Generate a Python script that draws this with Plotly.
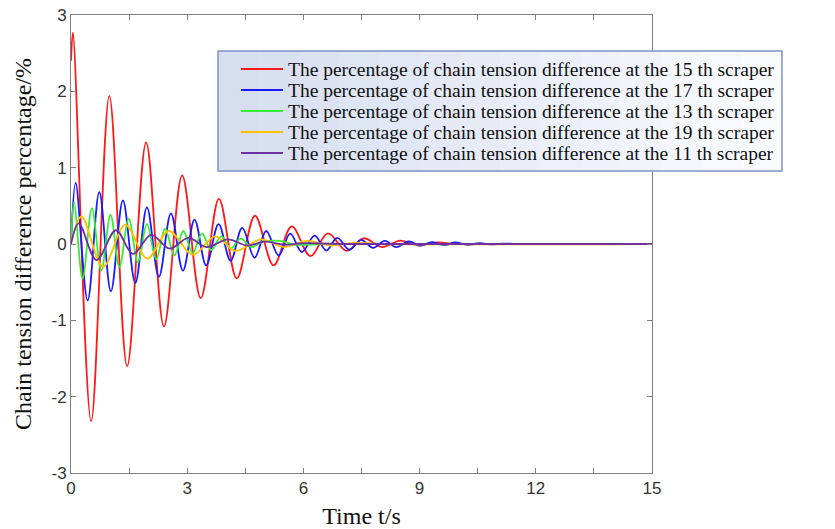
import plotly.graph_objects as go

# ---- data (extrema) ----
t15 = [0, 0.05, 0.52, 0.99, 1.45, 1.94, 2.40, 2.87, 3.35, 3.82, 4.28, 4.75, 5.23, 5.70, 6.18,
       6.63, 7.12, 7.55, 8.03, 8.50, 8.97, 9.45, 9.90, 10.5, 15]
v15 = [2.40, 2.77, -2.32, 1.94, -1.60, 1.33, -1.08, 0.90, -0.71, 0.59, -0.45, 0.37, -0.28, 0.23, -0.16,
       0.14, -0.09, 0.075, -0.04, 0.045, -0.02, 0.02, 0.0, 0.0, 0.0]

t17 = [0, 0.12, 0.43, 0.73, 1.03, 1.34, 1.66, 1.96, 2.27, 2.58, 2.89, 3.19, 3.49, 3.81, 4.12, 4.42,
       4.74, 5.04, 5.36, 5.66, 5.96, 6.29, 6.59, 6.87, 7.19, 7.49, 7.80, 8.10, 8.40, 8.72, 9.02, 9.32,
       9.64, 9.92, 10.23, 10.55, 10.85, 11.17, 11.5, 15]
v17 = [0, 0.80, -0.74, 0.68, -0.62, 0.57, -0.51, 0.48, -0.43, 0.40, -0.35, 0.32, -0.28, 0.26, -0.22, 0.21,
       -0.18, 0.17, -0.15, 0.135, -0.105, 0.11, -0.085, 0.08, -0.075, 0.055, -0.05, 0.04, -0.04, 0.035, -0.02, 0.025,
       -0.015, 0.02, -0.01, 0.01, -0.005, 0.005, 0.0, 0.0]

t13 = [0, 0.08, 0.30, 0.54, 0.78, 1.02, 1.25, 1.49, 1.73, 1.96, 2.20, 2.43, 2.67, 2.90, 3.14, 3.38,
       3.62, 3.88, 4.12, 4.38, 4.65, 4.95, 5.40, 5.80, 6.50, 15]
v13 = [0, 0.55, -0.45, 0.47, -0.35, 0.38, -0.30, 0.33, -0.24, 0.26, -0.20, 0.20, -0.15, 0.17, -0.12, 0.14,
       -0.08, 0.10, -0.06, 0.07, -0.04, 0.03, 0.04, -0.01, 0.0, 0.0]

t19 = [0, 0.27, 0.83, 1.40, 1.97, 2.52, 3.15, 3.72, 4.25, 4.90, 5.50, 6.10, 6.70, 7.30, 8.0, 15]
v19 = [0, 0.36, -0.30, 0.25, -0.19, 0.17, -0.14, 0.10, -0.09, 0.06, -0.04, 0.04, -0.02, 0.015, 0.0, 0.0]

t11 = [0, 0.20, 0.66, 1.16, 1.60, 2.07, 2.55, 3.03, 3.50, 4.05, 4.55, 5.00, 5.50, 6.00, 7.0, 15]
v11 = [0, 0.27, -0.21, 0.18, -0.13, 0.12, -0.06, 0.08, -0.04, 0.06, -0.02, 0.03, -0.01, 0.01, 0.0, 0.0]

names = [
    "The percentage of chain tension difference at the 15 th scraper",
    "The percentage of chain tension difference at the 17 th scraper",
    "The percentage of chain tension difference at the 13 th scraper",
    "The percentage of chain tension difference at the 19 th scraper",
    "The percentage of chain tension difference at the 11 th scraper",
]
colors = ["#ff1a1a", "#1a1aff", "#33ee33", "#ffc000", "#7030a0"]
series = [(t15, v15), (t17, v17), (t13, v13), (t19, v19), (t11, v11)]

x_ticks = [0, 3, 6, 9, 12, 15]
y_ticks = [-3, -2, -1, 0, 1, 2, 3]

# ---- layout geometry (pixels) ----
W, H = 835, 529
ML, MR, MT, MB = 71, 183, 15, 56
PW, PH = W - ML - MR, H - MT - MB


def px(xp):
    return (xp - ML) / PW


def py(yp):
    return (H - MB - yp) / PH


fig = go.Figure()
for (tx, vy), nm, c in zip(series, names, colors):
    fig.add_trace(go.Scatter(x=tx, y=vy, name=nm, mode="lines", showlegend=False,
                             line=dict(color=c, width=1.8, shape="spline", smoothing=1.0)))

# ---- legend box drawn as shapes/annotations ----
box_l, box_r, box_t, box_b = 218, 782, 51, 171
shapes = []
annotations = []
n_strips = 14
c0 = (214, 222, 240)
c1 = (250, 251, 254)
sw = (box_r - box_l) / n_strips
for i in range(n_strips):
    f = i / (n_strips - 1)
    col = "rgb(%d,%d,%d)" % tuple(round(a + (b - a) * f) for a, b in zip(c0, c1))
    shapes.append(dict(type="rect", xref="paper", yref="paper", layer="above",
                       x0=px(box_l + i * sw), x1=px(box_l + (i + 1) * sw + 0.6),
                       y0=py(box_b), y1=py(box_t), fillcolor=col, line=dict(width=0)))
shapes.append(dict(type="rect", xref="paper", yref="paper", layer="above",
                   x0=px(box_l), x1=px(box_r), y0=py(box_b), y1=py(box_t),
                   fillcolor="rgba(0,0,0,0)", line=dict(color="#7f93c8", width=1.5)))
for k, (nm, c) in enumerate(zip(names, colors)):
    yy = 69 + 21 * k
    shapes.append(dict(type="line", xref="paper", yref="paper", layer="above",
                       x0=px(241), x1=px(283), y0=py(yy), y1=py(yy),
                       line=dict(color=c, width=1.8)))
    annotations.append(dict(text=nm, xref="paper", yref="paper", x=px(286), y=py(yy),
                            xanchor="left", yanchor="middle", showarrow=False,
                            font=dict(family="Liberation Serif", size=19.5, color="#111111")))

axis_common = dict(showline=True, linecolor="#7f7f7f", linewidth=1, mirror="ticks",
                   ticks="inside", ticklen=5, tickcolor="#7f7f7f", showgrid=False, zeroline=False,
                   automargin=False)

fig.update_layout(
    width=W, height=H,
    margin=dict(l=ML, r=MR, t=MT, b=MB),
    plot_bgcolor="white", paper_bgcolor="white",
    showlegend=False,
    shapes=shapes, annotations=annotations,
    xaxis=dict(range=[0, 15], tickvals=x_ticks, ticktext=[str(v) for v in x_ticks],
               minor=dict(dtick=1.5, ticks="inside", ticklen=5, tickcolor="#7f7f7f", showgrid=False),
               tickfont=dict(family="Liberation Sans Narrow, Liberation Sans", size=17, color="#333333"),
               title=dict(text="Time t/s", font=dict(family="Liberation Serif", size=24, color="#111111"),
                          standoff=12),
               **axis_common),
    yaxis=dict(range=[-3, 3], tickvals=y_ticks, ticktext=[str(v) for v in y_ticks],
               tickfont=dict(family="Liberation Sans", size=17, color="#333333"),
               title=dict(text="Chain tension difference percentage/%",
                          font=dict(family="Liberation Serif", size=24, color="#111111"), standoff=13),
               **axis_common),
)

fig.write_html("out.html")
